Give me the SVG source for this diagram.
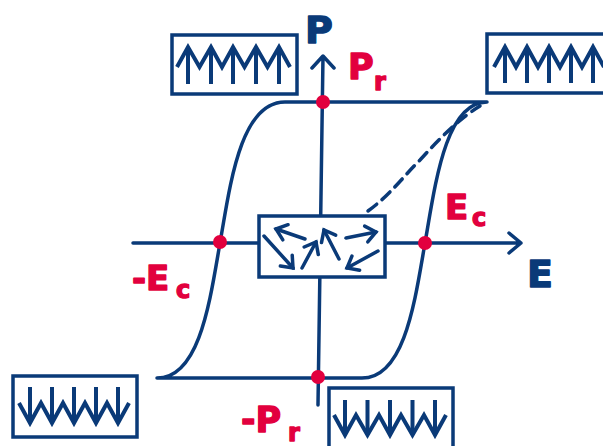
<svg xmlns="http://www.w3.org/2000/svg" width="603" height="446" viewBox="0 0 603 446">
<style>
.ln{fill:none;stroke:#0a3a78;stroke-width:3.5;stroke-linecap:round;stroke-linejoin:round}
.box{fill:#fff;stroke:#0a3a78;stroke-width:3.5}
.ar{fill:none;stroke:#0a3a78;stroke-width:4;stroke-linejoin:miter;stroke-linecap:butt}
.dot{fill:#e2003e}
.lb{font-family:"DejaVu Sans",Verdana,sans-serif;font-weight:bold;stroke-width:1.4;stroke-linejoin:round}
.red{fill:#e2003e;stroke:#e2003e}
.navy{fill:#0a3a78;stroke:#0a3a78}
</style>
<defs>
<marker id="hd" markerUnits="userSpaceOnUse" orient="auto" refX="0" refY="0" markerWidth="24" markerHeight="24" style="overflow:visible">
<path d="M-10,-8 L0,0 L-10,8" fill="none" stroke="#0a3a78" stroke-width="3.5" stroke-linejoin="miter" stroke-linecap="round"/>
</marker>
</defs>
<g id="connectors">
<path id="loop" class="ln" d="M285,102 L487,102 C445,102 435,186 425,243 C415,300 405,378 362,378 L157,378 C200,378 210,300 220,243 C230,186 240,102 285,102 Z"/>
<path id="e-axis" class="ln" d="M133,243 L521,243 M509,233 L521,243 L509,253"/>
<path id="p-axis" class="ln" d="M318,405 L323,56 M312,68 L323,56 L334,68"/>
<path id="virgin" class="ln" stroke-dasharray="11,7" stroke-linecap="butt" d="M368,211 C390,195 402,178 420,160 C440,138 460,118 480,106"/>
</g>
<g id="box-center">
<rect class="box" x="259" y="216" width="126" height="61"/>
<g class="ln" stroke-width="3.5" marker-end="url(#hd)">
<path d="M305,239 L276,229"/>
<path d="M264,236 L293,268"/>
<path d="M302,268 L316,242"/>
<path d="M339,259 L324,230"/>
<path d="M346,238 L376,232"/>
<path d="M378,251 L347,268"/>
</g>
</g>
<g id="box-top-left">
<rect class="box" x="172" y="35" width="125" height="59"/>
<path class="ar" d="M188,47V84 M211,47V84 M233,47V84 M256,47V84 M279,47V84"/>
<polyline class="ar" points="177,67 188,47 199.5,67 211,47 222,67 233,47 244.5,67 256,47 267.5,67 279,47 290,67"/>
</g>
<g id="box-top-right">
<rect class="box" x="487" y="34" width="130" height="59"/>
<path class="ar" d="M505,47V83 M527,47V83 M549,47V83 M571,47V83 M593,47V83"/>
<polyline class="ar" points="494,67 505,47 516,67 527,47 538,67 549,47 560,67 571,47 582,67 593,47 604,67"/>
</g>
<g id="box-bottom-left">
<rect class="box" x="13" y="376" width="124" height="61"/>
<path class="ar" d="M30,387V423 M52,387V423 M74,387V423 M96,387V423 M118,387V423"/>
<polyline class="ar" points="19,403 30,423 41,403 52,423 63,403 74,423 85,403 96,423 107,403 118,423 129,403"/>
</g>
<g id="box-bottom-right">
<rect class="box" x="329" y="388" width="124" height="64"/>
<path class="ar" d="M345,400V435 M367.5,400V435 M390,400V435 M412.5,400V435 M435,400V435"/>
<polyline class="ar" points="334,415 345,435 356,415 367.5,435 379,415 390,435 401,415 412.5,435 424,415 435,435 446,415"/>
</g>
<g id="points">
<circle class="dot" cx="323" cy="102" r="7"/>
<circle class="dot" cx="220" cy="242" r="7"/>
<circle class="dot" cx="425" cy="243" r="7"/>
<circle class="dot" cx="318" cy="377" r="7"/>
</g>
<g id="labels">
<text class="lb navy" x="305" y="43" font-size="38">P</text>
<text class="lb navy" x="527" y="287" font-size="38">E</text>
<text class="lb red" x="348" y="79" font-size="35">P</text>
<text class="lb red" x="374" y="90" font-size="24">r</text>
<text class="lb red" x="445" y="219" font-size="34">E</text>
<text class="lb red" x="472" y="226" font-size="24">c</text>
<text class="lb red" x="132" y="290" font-size="34">-E</text>
<text class="lb red" x="176" y="298" font-size="24">c</text>
<text class="lb red" x="241" y="432" font-size="35">-P</text>
<text class="lb red" x="288" y="441" font-size="24">r</text>
</g>
</svg>
